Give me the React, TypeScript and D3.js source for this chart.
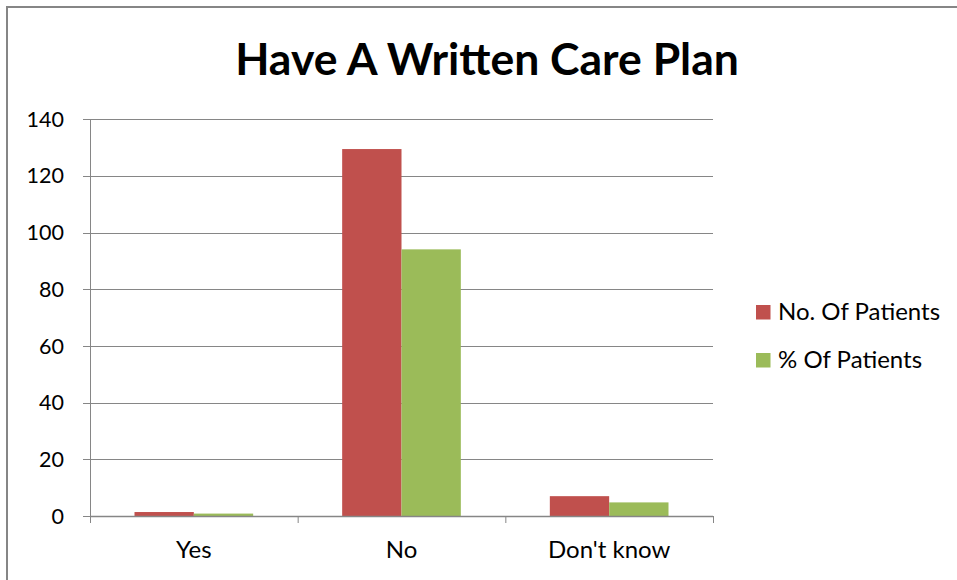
import React from "react";
import * as d3 from "d3";

const categories = ["Yes", "No", "Don't know"];
const seriesNames = ["No. Of Patients", "% Of Patients"];
const patients = [1.4, 129.5, 7.0];
const percents = [0.85, 94.1, 4.8];
const yTicks = [0, 20, 40, 60, 80, 100, 120, 140];
const colors = ["#C0504D", "#9BBB59"];
const title = "Have A Written Care Plan";

const W = 957;
const H = 580;
const plot = { left: 90, right: 713, top: 119.3, bottom: 516 };
const font = "Lato, 'Open Sans', sans-serif";

export default function App() {
  const x = d3.scaleBand<string>().domain(categories).range([plot.left, plot.right]).paddingInner(0).paddingOuter(0);
  const xs = d3.scaleBand<string>().domain(seriesNames).range([0, x.bandwidth()]).paddingInner(0).paddingOuter(0.75);
  const y = d3.scaleLinear().domain([0, 140]).range([plot.bottom, plot.top]);
  const values = [patients, percents];
  const grid = "#868686";
  const boundaries = [...categories.map((c) => x(c) as number), plot.right];

  return (
    <svg width={W} height={H} style={{ position: "absolute", left: 0, top: 0, background: "#fff" }} fontFamily={font}>
      <rect x={7} y={7} width={W + 10} height={H + 10} fill="#fff" stroke={grid} strokeWidth={2} />
      <text x={487} y={75} textAnchor="middle" fontSize={44.5} fontWeight={700} fill="#000">{title}</text>
      {yTicks.map((t) => (
        <g key={t}>
          {t > 0 && <line x1={plot.left} x2={plot.right} y1={Math.round(y(t)) + 0.5} y2={Math.round(y(t)) + 0.5} stroke={grid} strokeWidth={1} />}
          <line x1={plot.left - 7} x2={plot.left} y1={Math.round(y(t)) + 0.5} y2={Math.round(y(t)) + 0.5} stroke={grid} strokeWidth={1} />
          <text x={64} y={y(t)} dy="0.35em" textAnchor="end" fontSize={21.5} fill="#000">{t}</text>
        </g>
      ))}
      {values.map((vals, si) =>
        categories.map((c, ci) => (
          <rect key={si + "-" + ci}
            x={(x(c) as number) + (xs(seriesNames[si]) as number)}
            y={y(vals[ci])}
            width={xs.bandwidth()}
            height={plot.bottom - y(vals[ci])}
            fill={colors[si]} />
        ))
      )}
      <line x1={plot.left + 0.5} x2={plot.left + 0.5} y1={plot.top} y2={plot.bottom} stroke={grid} strokeWidth={1} />
      <line x1={plot.left} x2={plot.right} y1={plot.bottom + 0.5} y2={plot.bottom + 0.5} stroke={grid} strokeWidth={1.5} />
      {boundaries.map((b, i) => (
        <line key={i} x1={b + 0.5} x2={b + 0.5} y1={plot.bottom} y2={plot.bottom + 7} stroke={grid} strokeWidth={1} />
      ))}
      {categories.map((c) => (
        <text key={c} x={(x(c) as number) + x.bandwidth() / 2} y={558} textAnchor="middle" fontSize={24} fill="#000">{c}</text>
      ))}
      {seriesNames.map((s, i) => (
        <g key={s}>
          <rect x={756} y={305 + i * 48} width={14.5} height={14.5} fill={colors[i]} />
          <text x={778} y={312 + i * 48} dy="0.35em" fontSize={24} fill="#000">{s}</text>
        </g>
      ))}
    </svg>
  );
}
